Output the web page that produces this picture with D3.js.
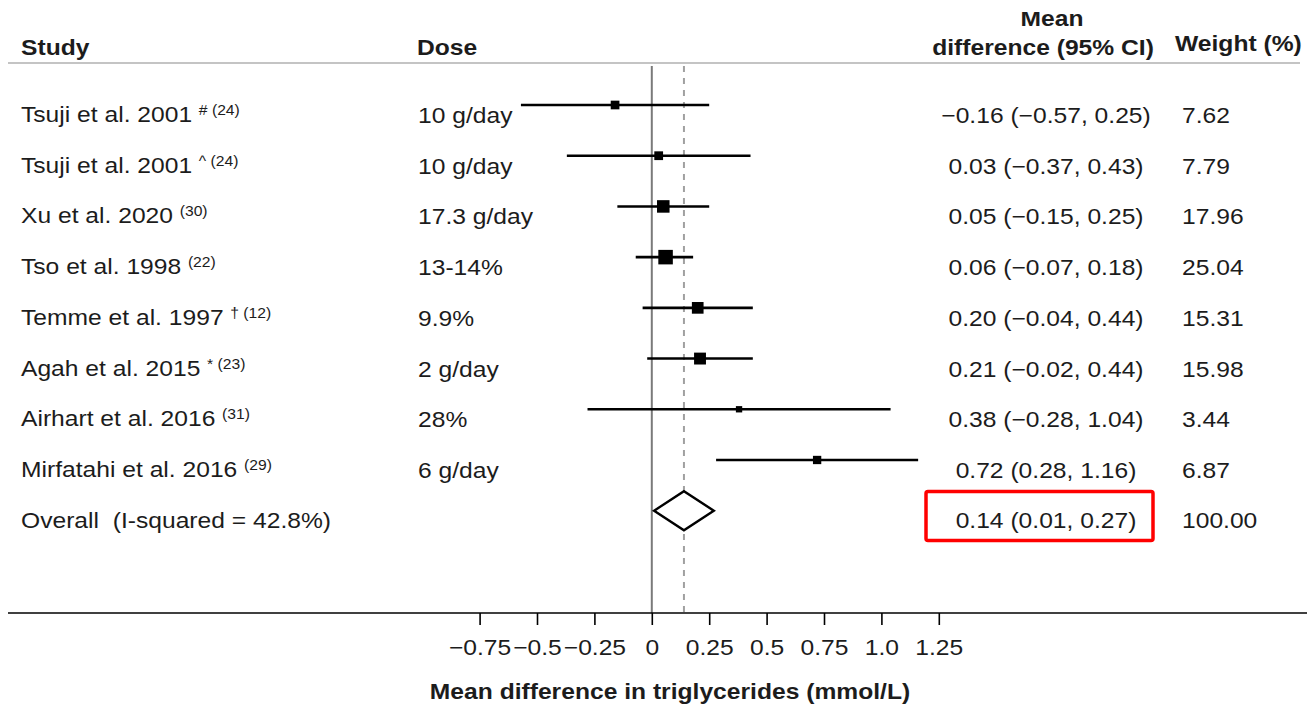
<!DOCTYPE html>
<html>
<head>
<meta charset="utf-8">
<script src="https://cdn.jsdelivr.net/npm/d3@7"></script>
<style>
  body { margin: 0; background: #fff; }
  text { font-family: "Liberation Sans", Arial, Helvetica, sans-serif; fill: #1c1c1c; }
</style>
</head>
<body>
<div id="chart"></div>
<script>
// study rows
var studies = ["Tsuji et al. 2001", "Tsuji et al. 2001", "Xu et al. 2020", "Tso et al. 1998",
               "Temme et al. 1997", "Agah et al. 2015", "Airhart et al. 2016", "Mirfatahi et al. 2016"];
var marks = ["# ", "^ ", "", "", "† ", "* ", "", ""];
var refs = ["(24)", "(24)", "(30)", "(22)", "(12)", "(23)", "(31)", "(29)"];
var doses = ["10 g/day", "10 g/day", "17.3 g/day", "13-14%", "9.9%", "2 g/day", "28%", "6 g/day"];
var md = [-0.16, 0.03, 0.05, 0.06, 0.20, 0.21, 0.38, 0.72];
var lo = [-0.57, -0.37, -0.15, -0.07, -0.04, -0.02, -0.28, 0.28];
var hi = [0.25, 0.43, 0.25, 0.18, 0.44, 0.44, 1.04, 1.16];
var weights = [7.62, 7.79, 17.96, 25.04, 15.31, 15.98, 3.44, 6.87];

// pooled estimate
var overallLabel = "Overall  (I-squared = 42.8%)";
var overall = [0.14, 0.01, 0.27];
var overallWeight = "100.00";

var tickVals = [-0.75, -0.5, -0.25, 0, 0.25, 0.5, 0.75, 1.0, 1.25];
var tickLabels = ["−0.75", "−0.5", "−0.25", "0", "0.25", "0.5", "0.75", "1.0", "1.25"];

var W = 1307, H = 705;
var SX = 1.12; // the original text is a bit wider than Arial
var FS = 22;

var svg = d3.select("#chart").append("svg").attr("width", W).attr("height", H);

var x = d3.scaleLinear().domain([-0.75, 1.25]).range([479.6, 938.8]);
var rowY = d3.scaleLinear().domain([0, 8]).range([105, 510.7]);
var axisY = 613;

var fmt = d3.format(".2f");
function num(v) { return fmt(v).replace("-", "−"); }

function txt(parent, px, py, s, opt) {
  opt = opt || {};
  return parent.append("text")
    .attr("transform", "translate(" + px + "," + py + ") scale(" + SX + ",1)")
    .attr("text-anchor", opt.anchor || "start")
    .style("font-size", (opt.size || FS) + "px")
    .style("font-weight", opt.bold ? "bold" : "normal")
    .style("white-space", "pre")
    .text(s);
}

// header ("Mean" is cut at the top edge in the original)
svg.append("clipPath").attr("id", "topclip")
  .append("rect").attr("x", 0).attr("y", 12).attr("width", W).attr("height", H);
var topG = svg.append("g").attr("clip-path", "url(#topclip)");
txt(topG, 1052, 26, "Mean", {bold: true, anchor: "middle"});
txt(svg, 21, 55, "Study", {bold: true});
txt(svg, 417, 55, "Dose", {bold: true});
txt(svg, 1043, 55, "difference (95% CI)", {bold: true, anchor: "middle"});
txt(svg, 1175, 51, "Weight (%)", {bold: true});

svg.append("line").attr("x1", 8).attr("x2", 1300).attr("y1", 63).attr("y2", 63)
  .attr("stroke", "#c4c4c4").attr("stroke-width", 2);

// reference lines
svg.append("line").attr("x1", x(0)).attr("x2", x(0)).attr("y1", 66).attr("y2", axisY)
  .attr("stroke", "#7a7a7a").attr("stroke-width", 2);
svg.append("line").attr("x1", x(overall[0])).attr("x2", x(overall[0])).attr("y1", 66).attr("y2", axisY)
  .attr("stroke", "#a0a0a0").attr("stroke-width", 2).attr("stroke-dasharray", "6,6");

// rows
studies.forEach(function (s, i) {
  var y = rowY(i);
  var t = txt(svg, 21, y + 17, s);
  t.append("tspan").attr("dx", 6).attr("dy", -7).style("font-size", "14px").text(marks[i] + refs[i]);
  txt(svg, 418, y + 18, doses[i]);
  txt(svg, 1046, y + 18, num(md[i]) + " (" + num(lo[i]) + ", " + num(hi[i]) + ")", {anchor: "middle"});
  txt(svg, 1182, y + 18, fmt(weights[i]));

  svg.append("line").attr("x1", x(lo[i])).attr("x2", x(hi[i])).attr("y1", y).attr("y2", y)
    .attr("stroke", "#000").attr("stroke-width", 2.6);
  var side = 2.6 * Math.sqrt(weights[i]) + 1.5;
  svg.append("rect").attr("x", x(md[i]) - side / 2).attr("y", y - side / 2)
    .attr("width", side).attr("height", side).attr("fill", "#000");
});

// overall row
var oy = rowY(8);
txt(svg, 21, oy + 17, overallLabel);
txt(svg, 1046, oy + 17, num(overall[0]) + " (" + num(overall[1]) + ", " + num(overall[2]) + ")", {anchor: "middle"});
txt(svg, 1182, oy + 17, overallWeight);
svg.append("path")
  .attr("d", "M" + x(overall[1]) + "," + oy + "L" + x(overall[0]) + "," + (oy - 19.5) +
             "L" + x(overall[2]) + "," + oy + "L" + x(overall[0]) + "," + (oy + 19.5) + "Z")
  .attr("fill", "#fff").attr("stroke", "#000").attr("stroke-width", 2.4);

// highlight box
svg.append("rect").attr("x", 926).attr("y", 491.5).attr("width", 227).attr("height", 49)
  .attr("rx", 2).attr("fill", "none").attr("stroke", "#ff0000").attr("stroke-width", 3.5);

// x axis
svg.append("line").attr("x1", 8).attr("x2", W).attr("y1", axisY).attr("y2", axisY)
  .attr("stroke", "#000").attr("stroke-width", 1.6);
var ax = svg.append("g").attr("transform", "translate(0," + axisY + ")")
  .call(d3.axisBottom(x).tickValues(tickVals).tickSize(12).tickPadding(14)
    .tickFormat(function (d, i) { return tickLabels[i]; }));
ax.select(".domain").remove();
ax.selectAll(".tick line").attr("stroke", "#000").attr("stroke-width", 1.6);
ax.selectAll(".tick text")
  .attr("transform", "scale(" + SX + ",1)")
  .style("font-size", FS + "px").style("font-family", "Liberation Sans, Arial, sans-serif")
  .attr("fill", "#1c1c1c");

txt(svg, 670, 699, "Mean difference in triglycerides (mmol/L)", {bold: true, anchor: "middle"});
</script>
</body>
</html>
